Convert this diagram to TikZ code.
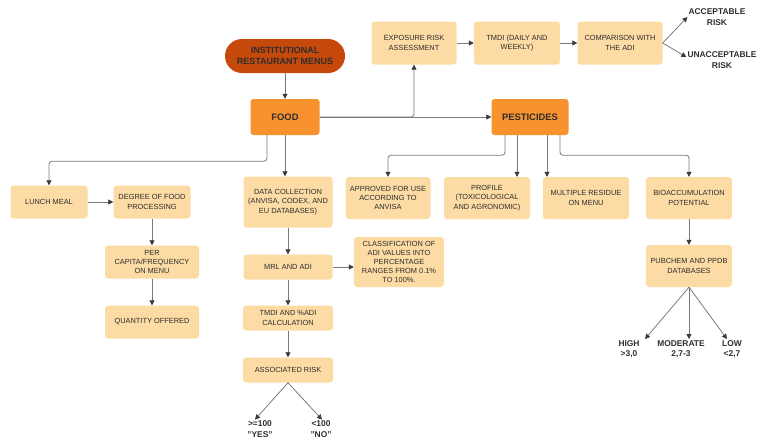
\documentclass[tikz,border=0pt]{standalone}
\usepackage{fontspec}
\setmainfont{Liberation Sans}
\usepackage{xcolor}
\usetikzlibrary{arrows.meta,positioning,calc}
\definecolor{peach}{HTML}{FCDBA4}
\definecolor{mainor}{HTML}{F7922E}
\definecolor{darkor}{HTML}{C4490A}
\definecolor{txt}{HTML}{2E2E2E}
\definecolor{lnk}{HTML}{7A7A7A}
\definecolor{tipc}{HTML}{3A3A3A}
\tikzset{
	blk/.style={rounded corners=3pt, inner sep=2pt, align=center, text=txt,
		font=\fontsize{7.4}{9.2}\selectfont, fill=peach},
	mainblk/.style={blk, fill=mainor, font=\fontsize{9.4}{11}\selectfont\bfseries,
		minimum height=36pt},
	startblk/.style={blk, fill=darkor, rounded corners=17pt, minimum width=120pt,
		minimum height=34pt, font=\fontsize{9}{11}\selectfont\bfseries},
	outc/.style={align=center, text=txt, inner sep=1pt,
		font=\fontsize{8.4}{10.4}\selectfont\bfseries},
	link/.style={draw=lnk, line width=0.8pt,
		-{Triangle[width=5pt,length=5pt,color=tipc]}},
}

\begin{document}
\begin{tikzpicture}[x=1pt, y=-1pt]
				\useasboundingbox (0,0) rectangle (760,440);
				% top row
				\node[startblk] at (285,56) (menu) {INSTITUTIONAL\\RESTAURANT MENUS};
				\node[mainblk, minimum width=69pt] at (285,117) (food) {FOOD};
				\node[mainblk, minimum width=77pt] at (530,117) (pest) {PESTICIDES};
				\node[blk, minimum width=85pt, minimum height=43pt] at (414,43) (expo) {EXPOSURE RISK\\ASSESSMENT};
				\node[blk, minimum width=86pt, minimum height=43pt] at (517,43) (tmdi) {TMDI (DAILY AND\\WEEKLY)};
				\node[blk, minimum width=85pt, minimum height=43pt] at (620,43) (comp) {COMPARISON WITH\\THE ADI};
				\node[outc] at (717,17) (acc) {ACCEPTABLE\\RISK};
				\node[outc] at (722,60) (unacc) {UNACCEPTABLE\\RISK};
				% food branch
				\node[blk, minimum width=77pt, minimum height=33pt] at (49,202) (lunch) {LUNCH MEAL};
				\node[blk, minimum width=77pt, minimum height=33pt] at (152,202) (degr) {DEGREE OF FOOD\\PROCESSING};
				\node[blk, minimum width=94pt, minimum height=33pt] at (152,262) (percap) {PER\\CAPITA/FREQUENCY\\ON MENU};
				\node[blk, minimum width=94pt, minimum height=33pt] at (152,322) (quant) {QUANTITY OFFERED};
				\node[blk, minimum width=89pt, minimum height=51pt] at (288,202) (data) {DATA COLLECTION\\(ANVISA, CODEX, AND\\EU DATABASES)};
				\node[blk, minimum width=89pt, minimum height=25pt] at (288,267) (mrl) {MRL AND ADI};
				\node[blk, minimum width=90pt, minimum height=50pt] at (399,262) (clas) {CLASSIFICATION OF\\ADI VALUES INTO\\PERCENTAGE\\RANGES FROM 0.1\%\\TO 100\%.};
				\node[blk, minimum width=90pt, minimum height=25pt] at (288,318) (calc) {TMDI AND \%ADI\\CALCULATION};
				\node[blk, minimum width=90pt, minimum height=25pt] at (288,370) (assoc) {ASSOCIATED RISK};
				\node[outc] at (260,429) (yes) {>=100\\"YES"};
				\node[outc] at (321,429) (no) {<100\\"NO"};
				% pesticide branch
				\node[blk, minimum width=85pt, minimum height=42pt] at (388,198) (appr) {APPROVED FOR USE\\ACCORDING TO\\ANVISA};
				\node[blk, minimum width=86pt, minimum height=42pt] at (487,198) (prof) {PROFILE\\(TOXICOLOGICAL\\AND AGRONOMIC)};
				\node[blk, minimum width=86pt, minimum height=42pt] at (586,198) (mult) {MULTIPLE RESIDUE\\ON MENU};
				\node[blk, minimum width=86pt, minimum height=42pt] at (689,198) (bio) {BIOACCUMULATION\\POTENTIAL};
				\node[blk, minimum width=86pt, minimum height=42pt] at (689,266) (pubc) {PUBCHEM AND PPDB\\DATABASES};
				\node[outc] at (629,349) (high) {HIGH\\>3,0};
				\node[outc] at (681,349) (mode) {MODERATE\\2,7-3};
				\node[outc] at (732,349) (low) {LOW\\<2,7};
				% connectors
				\draw[link] (menu) -- (food);
				\draw[link] (food.east) -- (pest.west);
				\draw[link, rounded corners=3pt] (food.east) -| (expo.south);
				\draw[link] (expo) -- (tmdi);
				\draw[link] (tmdi) -- (comp);
				\draw[link] (comp.east) -- (acc.west);
				\draw[link] (comp.east) -- ([yshift=3pt]unacc.west);
				\draw[link, rounded corners=3pt] ([xshift=-18pt]food.south) -- ++(0,26) -| (lunch.north);
				\draw[link] (food.south) -- (food.south |- data.north);
				\draw[link] (lunch) -- (degr);
				\draw[link] (degr) -- (percap);
				\draw[link] (percap) -- (quant);
				\draw[link] (data) -- (mrl);
				\draw[link] (mrl) -- (clas.west |- mrl);
				\draw[link] (mrl) -- (calc);
				\draw[link] (calc) -- (assoc);
				\draw[link] (assoc.south) -- ([xshift=-5pt]yes.north);
				\draw[link] (assoc.south) -- ([xshift=1pt]no.north);
				\draw[link, rounded corners=3pt] ([xshift=-25pt]pest.south) -- ++(0,20) -| (appr.north);
				\draw[link] ([xshift=-13pt]pest.south) -- ([xshift=-13pt]pest.south |- prof.north);
				\draw[link] ([xshift=17pt]pest.south) -- ([xshift=17pt]pest.south |- mult.north);
				\draw[link, rounded corners=3pt] ([xshift=30pt]pest.south) -- ++(0,20) -| (bio.north);
				\draw[link] (bio) -- (pubc);
				\draw[link] (pubc.south) -- ([xshift=16pt]high.north);
				\draw[link] (pubc.south) -- (pubc.south |- mode.north);
				\draw[link] (pubc.south) -- ([xshift=-5pt]low.north);
			\end{tikzpicture}
\end{document}
